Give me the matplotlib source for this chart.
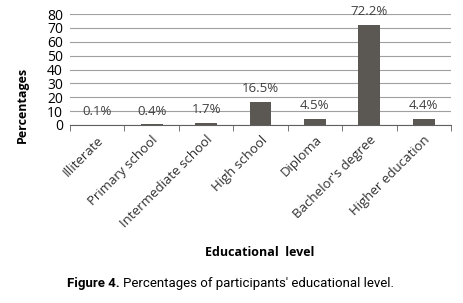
import numpy as np
import matplotlib.pyplot as plt

categories = ['Illiterate', 'Primary school', 'Intermediate school', 'High school',
              'Diploma', "Bachelor's degree", 'Higher education']
values = [0.1, 0.4, 1.7, 16.5, 4.5, 72.2, 4.4]
labels = ['0.1%', '0.4%', '1.7%', '16.5%', '4.5%', '72.2%', '4.4%']
yticks = [0, 10, 20, 30, 40, 50, 60, 70, 80]

fig = plt.figure(figsize=(4.63, 3.03), dpi=100)
ax = fig.add_axes([70 / 463, 1 - 125 / 303, 381 / 463, 111 / 303])

x = np.arange(len(categories))
bars = ax.bar(x, values, width=0.4, color='#5b5752', zorder=3)
ax.bar_label(bars, labels=labels, padding=5, fontsize=9.5, color='#404040',
             family='Open Sans')

ax.set_xlim(-0.5, len(categories) - 0.5)
ax.set_ylim(0, 80)
ax.set_yticks(yticks)
ax.set_yticklabels([str(v) for v in yticks], fontsize=10, family='Open Sans')
ax.yaxis.grid(True, color='#a0a0a0', linewidth=0.8, zorder=0)
ax.tick_params(axis='y', length=0, pad=5)

ax.set_xticks(x)
ax.set_xticklabels(categories, rotation=45, ha='right', rotation_mode='anchor',
                   fontsize=9.5, family='Open Sans', color='#303030')
ax.tick_params(axis='x', length=0, pad=6)
ax.set_xticks(np.arange(len(categories) + 1) - 0.5, minor=True)
ax.tick_params(axis='x', which='minor', length=4, color='#606060')

for s in ['top', 'right', 'left']:
    ax.spines[s].set_visible(False)
ax.spines['bottom'].set_color('#606060')

fig.text(22 / 463, 1 - 105 / 303, 'Percentages', rotation=90, ha='center', va='center',
         fontsize=9, fontweight='bold', family='Open Sans')
fig.text(260 / 463, 1 - 253 / 303, 'Educational  level', ha='center', va='center',
         fontsize=9, fontweight='bold', family='Open Sans')

# caption: bold "Figure 4." followed by plain text
cap = fig.text(67 / 463, 1 - 283 / 303, 'Figure 4.', ha='left', va='center',
               fontsize=9.5, fontweight='bold', family='Roboto')
fig.canvas.draw()
bb = cap.get_window_extent(fig.canvas.get_renderer())
fig.text((bb.x1 + 3) / 463, 1 - 283 / 303,
         'Percentages of participants\' educational level.',
         ha='left', va='center', fontsize=9.5, family='Roboto')

fig.savefig('out.png', dpi=100)
